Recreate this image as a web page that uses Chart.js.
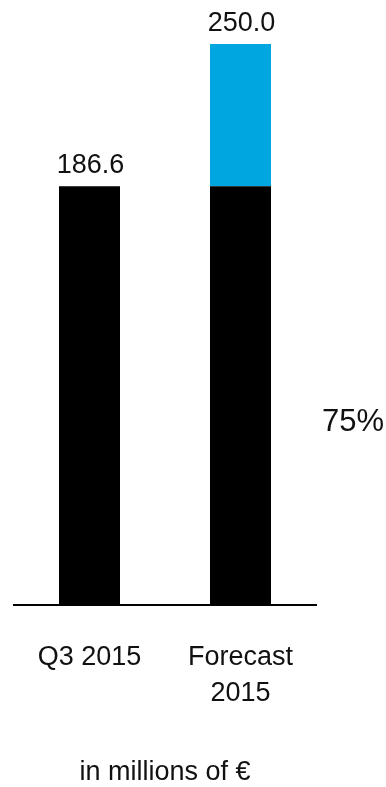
<!DOCTYPE html>
<html>
<head>
<meta charset="utf-8">
<script src="https://cdn.jsdelivr.net/npm/chart.js@4/dist/chart.umd.min.js"></script>
<style>
  html, body { margin: 0; padding: 0; background: #ffffff; }
  #wrap { width: 386px; height: 787px; }
</style>
</head>
<body>
<div id="wrap"><canvas id="c" width="386" height="787"></canvas></div>
<script>
// Categories and values (in millions of €)
const categories = ['Q3 2015', ['Forecast', '2015']];
const achievedValues = [186.6, 186.6];
const totalValues = [186.6, 250.0];
const shareLabel = '75%';
const unitLabel = 'in millions of €';

// Blue segment: what remains between the achieved amount and the total
const remainingValues = totalValues.map((t, i) => (t > achievedValues[i] ? +(t - achievedValues[i]).toFixed(1) : null));

const FONT = '"Liberation Sans", Arial, sans-serif';
const TEXT = '#111111';

// Writes each stack's total above the bar and the share note on the right
const annotations = {
  id: 'annotations',
  afterDatasetsDraw(chart) {
    const { ctx, scales: { x, y }, chartArea } = chart;
    ctx.save();
    ctx.fillStyle = TEXT;
    ctx.font = '27px ' + FONT;
    ctx.textAlign = 'center';
    ctx.textBaseline = 'alphabetic';
    totalValues.forEach((v, i) => {
      ctx.fillText(v.toFixed(1), x.getPixelForValue(i) + 1, y.getPixelForValue(v) - 13);
    });
    ctx.font = '31px ' + FONT;
    ctx.textAlign = 'left';
    ctx.fillText(shareLabel, chartArea.right + 6, 431);
    ctx.restore();
  }
};

new Chart(document.getElementById('c'), {
  type: 'bar',
  data: {
    labels: categories,
    datasets: [
      { label: 'Achieved', data: achievedValues, backgroundColor: '#000000', borderWidth: 0 },
      { label: 'Remaining', data: remainingValues, backgroundColor: '#00A6DF', borderWidth: 0 }
    ]
  },
  options: {
    responsive: false,
    animation: false,
    devicePixelRatio: 1,
    layout: { padding: { left: 14, right: 70, top: 44, bottom: 0 } },
    datasets: { bar: { barPercentage: 1, categoryPercentage: 0.404 } },
    plugins: { legend: { display: false }, tooltip: { enabled: false } },
    scales: {
      x: {
        stacked: true,
        grid: { display: false },
        border: { display: true, color: '#000000', width: 2 },
        ticks: { color: TEXT, font: { family: FONT, size: 27, lineHeight: 36 / 27 }, padding: 26, maxRotation: 0 },
        title: {
          display: true, text: unitLabel, color: TEXT,
          font: { family: FONT, size: 27, lineHeight: 1.1 },
          padding: { top: 20, bottom: 0 }
        }
      },
      y: { stacked: true, display: false, min: 0, max: 250 }
    }
  },
  plugins: [annotations]
});
</script>
</body>
</html>
